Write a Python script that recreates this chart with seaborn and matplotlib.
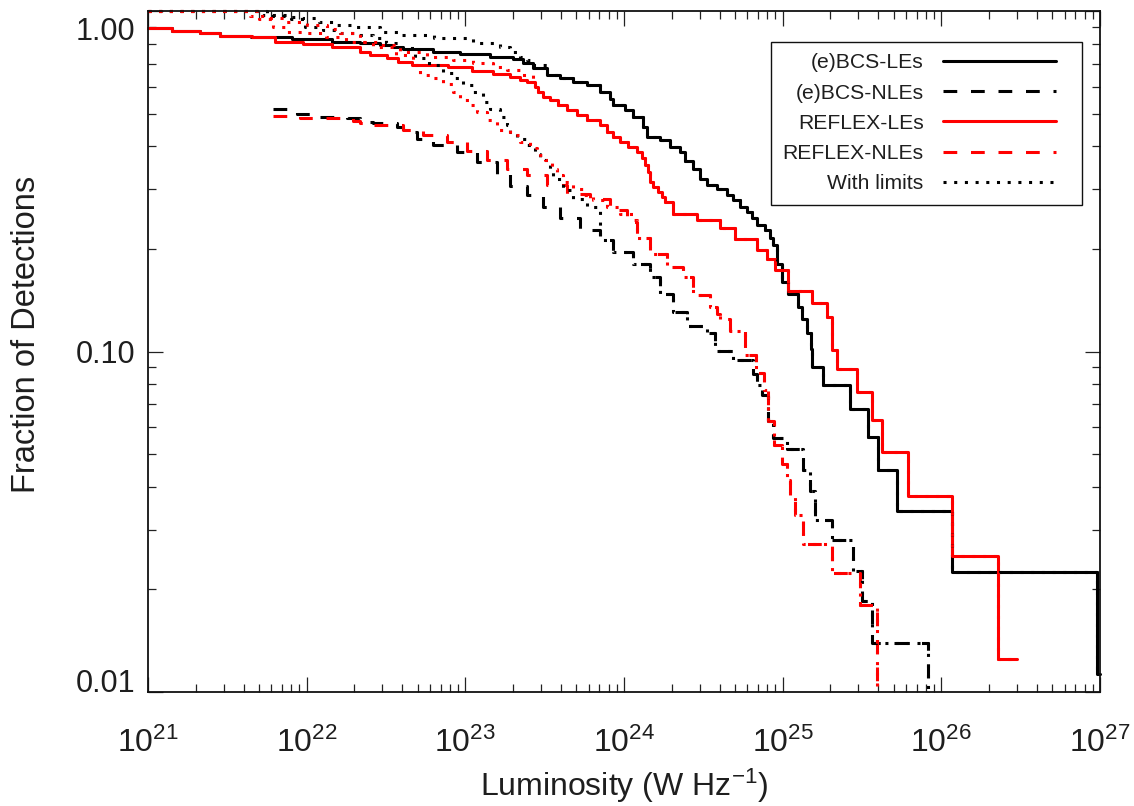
import numpy as np
import pandas as pd
import matplotlib
matplotlib.use("Agg")
import matplotlib.pyplot as plt
import seaborn as sns
from matplotlib.lines import Line2D
from matplotlib.legend_handler import HandlerLine2D
from matplotlib.ticker import (FixedLocator, FixedFormatter, NullFormatter,
                               LogFormatterSciNotation)
from matplotlib.transforms import ScaledTranslation

# ---------------------------------------------------------------------------
# Cumulative detection fractions (log10 luminosity in W/Hz, fraction >= L)
# ---------------------------------------------------------------------------
bcs_le_logL = [21.00, 21.149, 21.328, 21.454, 21.65, 21.906, 22.158, 22.336, 22.462,
               22.546, 22.609, 22.798, 22.966, 23.155, 23.302, 23.365, 23.428, 23.513,
               23.597, 23.680, 23.765, 23.849, 23.912, 23.933, 24.006, 24.059, 24.122,
               24.143, 24.227, 24.290, 24.353, 24.384, 24.437, 24.479, 24.521, 24.584,
               24.647, 24.689, 24.731, 24.773, 24.805, 24.836, 24.889, 24.920, 24.941,
               24.962, 24.994, 25.036, 25.099, 25.120, 25.151, 25.180, 25.183, 25.256,
               25.424, 25.540, 25.603, 25.718, 26.065, 26.978, 27.00]
bcs_le_frac = [0.889, 0.873, 0.860, 0.846, 0.840, 0.826, 0.812, 0.804, 0.794,
               0.782, 0.771, 0.759, 0.747, 0.731, 0.721, 0.702, 0.678, 0.648,
               0.634, 0.620, 0.606, 0.579, 0.553, 0.529, 0.512, 0.489, 0.457,
               0.427, 0.418, 0.399, 0.385, 0.363, 0.344, 0.322, 0.308, 0.301,
               0.288, 0.278, 0.266, 0.257, 0.246, 0.235, 0.227, 0.216, 0.206,
               0.181, 0.160, 0.148, 0.135, 0.125, 0.113, 0.1015, 0.0901, 0.0797,
               0.0678, 0.0561, 0.0450, 0.0339, 0.0225, 0.0113, 0.0113]

reflex_le_logL = [21.00, 21.149, 21.328, 21.454, 21.653, 21.800, 21.979, 22.158, 22.336,
                  22.400, 22.504, 22.578, 22.662, 22.893, 23.040, 23.176, 23.281, 23.345,
                  23.387, 23.439, 23.460, 23.491, 23.534, 23.586, 23.639, 23.702, 23.765,
                  23.849, 23.891, 23.933, 23.975, 24.027, 24.080, 24.111, 24.132, 24.153,
                  24.164, 24.185, 24.216, 24.237, 24.258, 24.311, 24.458, 24.605, 24.700,
                  24.836, 24.899, 24.952, 25.035, 25.183, 25.277, 25.309, 25.340, 25.466,
                  25.561, 25.624, 25.792, 26.065, 26.354, 26.474]
reflex_le_frac = [0.889, 0.873, 0.860, 0.846, 0.836, 0.809, 0.798, 0.786, 0.759,
                  0.742, 0.726, 0.710, 0.694, 0.683, 0.668, 0.653, 0.641, 0.627,
                  0.617, 0.599, 0.579, 0.560, 0.547, 0.529, 0.511, 0.494, 0.478,
                  0.462, 0.442, 0.427, 0.413, 0.399, 0.386, 0.369, 0.352, 0.337,
                  0.315, 0.304, 0.294, 0.284, 0.275, 0.254, 0.243, 0.230, 0.214,
                  0.199, 0.187, 0.173, 0.151, 0.139, 0.126, 0.101, 0.0891, 0.0761,
                  0.0630, 0.0508, 0.0377, 0.0251, 0.0125, 0.0125]

bcs_nle_logL = [21.790, 21.937, 22.084, 22.252, 22.336, 22.420, 22.567, 22.609, 22.693,
                22.798, 22.945, 23.072, 23.198, 23.281, 23.387, 23.492, 23.597, 23.723,
                23.849, 23.933, 24.059, 24.164, 24.227, 24.311, 24.395, 24.521, 24.574,
                24.689, 24.810, 24.838, 24.870, 24.909, 24.941, 25.025, 25.130, 25.172,
                25.204, 25.309, 25.445, 25.498, 25.561, 25.918]
bcs_nle_frac = [0.514, 0.500, 0.487, 0.484, 0.472, 0.468, 0.457, 0.442, 0.422,
                0.404, 0.386, 0.360, 0.333, 0.306, 0.288, 0.266, 0.246, 0.227,
                0.212, 0.196, 0.181, 0.165, 0.148, 0.131, 0.119, 0.113, 0.1006,
                0.0944, 0.0856, 0.0797, 0.0743, 0.0627, 0.0559, 0.0517, 0.0448, 0.0389,
                0.0321, 0.0279, 0.0227, 0.0185, 0.0139, 0.0]

reflex_nle_logL = [21.790, 21.958, 22.294, 22.336, 22.420, 22.609, 22.735, 22.882, 23.008,
                   23.135, 23.261, 23.387, 23.513, 23.639, 23.786, 23.912, 24.017, 24.080,
                   24.164, 24.269, 24.374, 24.437, 24.542, 24.584, 24.605, 24.666, 24.763,
                   24.835, 24.883, 24.908, 24.943, 24.994, 25.025, 25.046, 25.078, 25.130,
                   25.309, 25.487, 25.592]
reflex_nle_frac = [0.491, 0.484, 0.476, 0.469, 0.464, 0.447, 0.432, 0.413, 0.388,
                   0.364, 0.344, 0.329, 0.308, 0.291, 0.281, 0.260, 0.240, 0.216,
                   0.194, 0.177, 0.165, 0.147, 0.135, 0.129, 0.125, 0.115, 0.0975,
                   0.0866, 0.0771, 0.0627, 0.0530, 0.0468, 0.0419, 0.0377, 0.0330, 0.0272,
                   0.0224, 0.0180, 0.0]

# Curves including upper limits: they differ from the detection-only curves
# at low luminosity, then join them.
bcs_le_lim_logL = [21.00, 21.72, 21.89, 21.97, 22.08, 22.19, 22.29, 22.46, 22.59,
                   22.80, 23.05, 23.22, 23.28, 23.30, 23.345, 23.387, 23.429]
bcs_le_lim_frac = [1.000, 0.973, 0.962, 0.952, 0.930, 0.909, 0.899, 0.869, 0.850,
                   0.831, 0.803, 0.785, 0.780, 0.759, 0.734, 0.718, 0.694]

reflex_le_lim_logL = [21.00, 21.64, 21.75, 21.87, 22.00, 22.126, 22.21, 22.336, 22.462,
                      22.588, 22.756, 22.924, 23.05, 23.176, 23.261, 23.345, 23.428]
reflex_le_lim_frac = [1.000, 0.970, 0.952, 0.930, 0.909, 0.884, 0.860, 0.812, 0.794,
                      0.759, 0.734, 0.718, 0.702, 0.686, 0.671, 0.648, 0.627]

bcs_nle_lim_logL = [21.00, 21.75, 21.90, 21.99, 22.10, 22.21, 22.32, 22.42, 22.50,
                    22.60, 22.68, 22.77, 22.861, 22.924, 22.987, 23.05, 23.113, 23.155,
                    23.218, 23.261, 23.281, 23.324, 23.387, 23.439, 23.471, 23.534, 23.555,
                    23.618, 23.681, 23.765]
bcs_nle_lim_frac = [1.000, 0.970, 0.950, 0.900, 0.880, 0.860, 0.850, 0.831, 0.803,
                    0.777, 0.726, 0.694, 0.657, 0.634, 0.606, 0.579, 0.541, 0.517,
                    0.489, 0.462, 0.442, 0.422, 0.404, 0.381, 0.364, 0.344, 0.322,
                    0.298, 0.281, 0.266]

reflex_nle_lim_logL = [21.00, 21.70, 21.79, 21.87, 21.97, 22.12, 22.25, 22.42, 22.56,
                       22.67, 22.714, 22.798, 22.861, 22.924, 22.966, 23.029, 23.072, 23.135,
                       23.198, 23.281, 23.345, 23.408, 23.45, 23.502, 23.544, 23.576, 23.618,
                       23.681, 23.744, 23.807, 23.891, 23.975, 24.059]
reflex_nle_lim_frac = [1.000, 0.950, 0.899, 0.869, 0.860, 0.840, 0.812, 0.785, 0.742,
                       0.694, 0.648, 0.634, 0.609, 0.579, 0.547, 0.529, 0.506, 0.478,
                       0.447, 0.432, 0.413, 0.395, 0.377, 0.364, 0.344, 0.329, 0.315,
                       0.301, 0.288, 0.278, 0.266, 0.254, 0.243]

legend_labels = ["(e)BCS-LEs", "(e)BCS-NLEs", "REFLEX-LEs", "REFLEX-NLEs", "With limits"]
x_decades = [21, 22, 23, 24, 25, 26, 27]
y_major = [0.01, 0.1, 1.0]
y_major_labels = ["0.01", "0.10", "1.00"]

X_MIN, X_MAX = 1e21, 1e27
Y_MIN, Y_MAX = 0.01, 1.0


def with_limits(pre_logL, pre_frac, det_logL, det_frac):
    """Join a limits curve onto the detection curve once they coincide."""
    tail = [(l, f) for l, f in zip(det_logL, det_frac) if l > pre_logL[-1]]
    return (list(pre_logL) + [t[0] for t in tail],
            list(pre_frac) + [t[1] for t in tail])


def frame(name, logL, frac):
    df = pd.DataFrame({"logL": logL, "frac": frac})
    df["L"] = 10.0 ** df["logL"]
    # a fraction of zero is drawn down to the floor of the log axis
    df["frac"] = df["frac"].clip(lower=Y_MIN)
    df["series"] = name
    return df


curves = {
    "bcs_le": frame("bcs_le", bcs_le_logL, bcs_le_frac),
    "bcs_nle": frame("bcs_nle", bcs_nle_logL, bcs_nle_frac),
    "reflex_le": frame("reflex_le", reflex_le_logL, reflex_le_frac),
    "reflex_nle": frame("reflex_nle", reflex_nle_logL, reflex_nle_frac),
    "bcs_le_lim": frame("bcs_le_lim", *with_limits(bcs_le_lim_logL, bcs_le_lim_frac,
                                                   bcs_le_logL, bcs_le_frac)),
    "bcs_nle_lim": frame("bcs_nle_lim", *with_limits(bcs_nle_lim_logL, bcs_nle_lim_frac,
                                                     bcs_nle_logL, bcs_nle_frac)),
    "reflex_le_lim": frame("reflex_le_lim", *with_limits(reflex_le_lim_logL, reflex_le_lim_frac,
                                                         reflex_le_logL, reflex_le_frac)),
    "reflex_nle_lim": frame("reflex_nle_lim", *with_limits(reflex_nle_lim_logL, reflex_nle_lim_frac,
                                                           reflex_nle_logL, reflex_nle_frac)),
}

RED = "#ff0000"
BLACK = "#000000"
LW = 2.2
SOLID = "-"
DASHED = (0, (4.5, 4.5))
DOTTED = (0, (1.0, 2.5))

styles = [
    ("bcs_le", BLACK, SOLID),
    ("bcs_nle", BLACK, DASHED),
    ("reflex_le", RED, SOLID),
    ("reflex_nle", RED, DASHED),
    ("bcs_le_lim", BLACK, DOTTED),
    ("bcs_nle_lim", BLACK, DOTTED),
    ("reflex_le_lim", RED, DOTTED),
    ("reflex_nle_lim", RED, DOTTED),
]

# ---------------------------------------------------------------------------
sns.set_style("ticks")
plt.rcParams["font.family"] = ["Liberation Sans", "DejaVu Sans"]
plt.rcParams["mathtext.fontset"] = "custom"
plt.rcParams["mathtext.rm"] = "Liberation Sans"
plt.rcParams["mathtext.it"] = "Liberation Sans:italic"
plt.rcParams["mathtext.default"] = "regular"
TEXT = "#1e1e1e"

fig = plt.figure(figsize=(11.34, 8.06), dpi=100)
ax = fig.add_axes([148 / 1134, 114 / 806, 952 / 1134, 681 / 806])
ax.set_xscale("log")
ax.set_yscale("log")

for name, color, ls in styles:
    sns.lineplot(data=curves[name], x="L", y="frac", ax=ax, estimator=None, sort=False,
                 drawstyle="steps-post", color=color, linestyle=ls, linewidth=LW,
                 legend=False, clip_on=False)

ax.set_xlim(X_MIN, X_MAX)
ax.set_ylim(Y_MIN, Y_MAX)

# ticks only inside the plotted range
x_major = [10.0 ** d for d in x_decades]
x_minor = [m * 10.0 ** d for d in x_decades[:-1] for m in range(2, 10)]
y_minor = [m * v for v in y_major[:-1] for m in range(2, 10)]

ax.xaxis.set_major_locator(FixedLocator(x_major))
ax.xaxis.set_major_formatter(LogFormatterSciNotation())
ax.xaxis.set_minor_locator(FixedLocator(x_minor))
ax.xaxis.set_minor_formatter(NullFormatter())
ax.yaxis.set_major_locator(FixedLocator(y_major))
ax.yaxis.set_major_formatter(FixedFormatter(y_major_labels))
ax.yaxis.set_minor_locator(FixedLocator(y_minor))
ax.yaxis.set_minor_formatter(NullFormatter())

ax.tick_params(which="both", direction="in", top=True, right=True, color="#222222",
               width=0.9, labelcolor=TEXT)
ax.tick_params(which="major", length=10.5)
ax.tick_params(which="minor", length=5.5)
ax.tick_params(axis="x", which="major", labelsize=23, pad=26)
ax.tick_params(axis="y", which="major", labelsize=22, pad=9)
for sp in ax.spines.values():
    sp.set_linewidth(1.3)
    sp.set_color("#111111")

ax.set_xlabel(r"Luminosity (W Hz$^{-1}$)", fontsize=23, color=TEXT, labelpad=5)
ax.set_ylabel("Fraction of Detections", fontsize=23.5, color=TEXT)
ax.yaxis.set_label_coords(-0.111, 0.525)

# end labels sit inside the axis range
yticks = ax.yaxis.get_major_ticks()
yticks[0].label1.set_va("baseline")
yticks[2].label1.set_va("top")
yticks[2].label1.set_transform(yticks[2].label1.get_transform()
                               + ScaledTranslation(0, -0.06, fig.dpi_scale_trans))


class InsetLine(HandlerLine2D):
    """Legend line that leaves some room on its right side."""

    def create_artists(self, legend, orig_handle, xdescent, ydescent, width, height,
                       fontsize, trans):
        return super().create_artists(legend, orig_handle, xdescent, ydescent,
                                      width * 0.885, height, fontsize, trans)


handles = [
    Line2D([], [], color=BLACK, linestyle=SOLID, linewidth=LW),
    Line2D([], [], color=BLACK, linestyle=DASHED, linewidth=LW),
    Line2D([], [], color=RED, linestyle=SOLID, linewidth=LW),
    Line2D([], [], color=RED, linestyle=DASHED, linewidth=LW),
    Line2D([], [], color=BLACK, linestyle=DOTTED, linewidth=LW),
]
leg = ax.legend(handles, legend_labels, loc="upper right", bbox_to_anchor=(0.9811, 0.9549),
                borderaxespad=0, markerfirst=False, fontsize=15.2, handlelength=6.05,
                handletextpad=0.9, borderpad=0.55, labelspacing=0.53, fancybox=False,
                framealpha=1, edgecolor="#111111",
                handler_map={Line2D: InsetLine()})
leg.get_frame().set_linewidth(1.0)
for t in leg.get_texts():
    t.set_color(TEXT)

fig.savefig("out.png", dpi=100)
